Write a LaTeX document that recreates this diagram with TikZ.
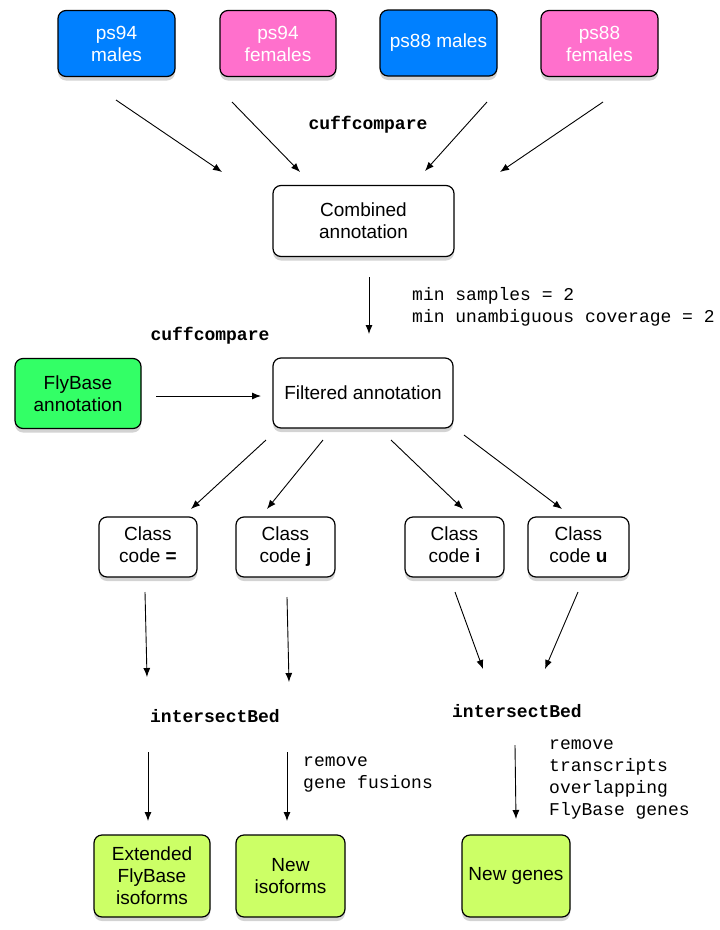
\documentclass[tikz,border=0pt]{standalone}
\usepackage{fontspec}
\setmainfont{Liberation Sans}
\newfontfamily\cour{Liberation Mono}
\usetikzlibrary{shadows,arrows.meta}
\definecolor{cblue}{RGB}{0,128,255}
\definecolor{cpink}{RGB}{255,112,204}
\definecolor{cgreen}{RGB}{51,255,102}
\definecolor{clime}{RGB}{204,255,102}
\tikzset{
  box/.style={draw=black, line width=1.2pt, rounded corners=8pt, fill=white, align=center,
    font=\fontsize{19}{22}\selectfont, inner sep=0pt,
    drop shadow={opacity=0.35, shadow xshift=0pt, shadow yshift=-4pt}},
  sample/.style={box, text=white},
  arr/.style={-{Latex[length=9pt,width=7pt]}, line width=0.9pt},
  tool/.style={font=\cour\bfseries\fontsize{18}{22}\selectfont, inner sep=0pt},
  note/.style={font=\cour\fontsize{18}{22}\selectfont, align=left, inner sep=0pt, anchor=north west},
}
\begin{document}
\begin{tikzpicture}[x=1pt,y=-1pt]
\useasboundingbox (0,0) rectangle (720,930);
% top samples
\node[sample, fill=cblue, minimum width=117pt, minimum height=66pt] (m94) at (116.5,43.5) {ps94\\males};
\node[sample, fill=cpink, minimum width=116pt, minimum height=66pt] (f94) at (278,43.5) {ps94\\females};
\node[sample, fill=cblue, minimum width=117pt, minimum height=66pt] (m88) at (438.5,43) {ps88 males};
\node[sample, fill=cpink, minimum width=117pt, minimum height=66pt] (f88) at (599.5,43.5) {ps88\\females};
\node[tool] (cc1) at (368,125) {cuffcompare};
\node[box, minimum width=181pt, minimum height=71pt] (comb) at (363.5,221) {Combined\\annotation};
\node[note] (filt1) at (412,287) {min samples = 2\\min unambiguous coverage = 2};
\node[tool] (cc2) at (210,336) {cuffcompare};
\node[box, fill=cgreen, minimum width=126pt, minimum height=70pt] (fb) at (78,393.5) {FlyBase\\annotation};
\node[box, minimum width=180pt, minimum height=70pt] (filt) at (363,393) {Filtered annotation};
% class codes
\node[box, minimum width=98pt, minimum height=60pt] (ceq) at (148,547) {Class\\code \textbf{=}\vphantom{j}};
\node[box, minimum width=99pt, minimum height=60pt] (cj) at (285.5,547) {Class\\code \textbf{j}};
\node[box, minimum width=99pt, minimum height=60pt] (ci) at (454.5,547) {Class\\code \textbf{i}\vphantom{j}};
\node[box, minimum width=101pt, minimum height=60pt] (cu) at (578.5,547) {Class\\code \textbf{u}\vphantom{j}};
% intersectBed
\node[tool] (ib1) at (215,716) {intersectBed};
\node[tool] (ib2) at (517,711) {intersectBed};
\node[note] (rm1) at (303,757) {remove\\gene fusions};
\node[note] (rm2) at (549,740) {remove\\transcripts\\overlapping\\FlyBase genes};
% results
\node[box, fill=clime, minimum width=116pt, minimum height=82pt] (ext) at (152,876) {Extended\\FlyBase\\isoforms};
\node[box, fill=clime, minimum width=109pt, minimum height=82pt] (newi) at (290.5,876) {New\\isoforms};
\node[box, fill=clime, minimum width=108pt, minimum height=82pt] (newg) at (516,876) {New genes};
% coordinates for arrows
\coordinate (a1s) at (116,100); \coordinate (a1e) at (222,172);
\coordinate (a2s) at (232,102); \coordinate (a2e) at (300,172);
\coordinate (a3s) at (487,102); \coordinate (a3e) at (425,171);
\coordinate (a4s) at (603,102); \coordinate (a4e) at (500,172);
\draw[arr] (a1s) -- (a1e);
\draw[arr] (a2s) -- (a2e);
\draw[arr] (a3s) -- (a3e);
\draw[arr] (a4s) -- (a4e);
\coordinate (b1s) at (369,277); \coordinate (b1e) at (369,334);
\draw[arr] (b1s) -- (b1e);
\coordinate (b2s) at (156,396); \coordinate (b2e) at (261,396);
\draw[arr] (b2s) -- (b2e);
\coordinate (c1s) at (266,440); \coordinate (c1e) at (191,509);
\coordinate (c2s) at (323,440); \coordinate (c2e) at (267,509);
\coordinate (c3s) at (391,440); \coordinate (c3e) at (463,509);
\coordinate (c4s) at (464,435); \coordinate (c4e) at (562,509);
\draw[arr] (c1s) -- (c1e);
\draw[arr] (c2s) -- (c2e);
\draw[arr] (c3s) -- (c3e);
\draw[arr] (c4s) -- (c4e);
\coordinate (d1s) at (145,592); \coordinate (d1e) at (147,677);
\coordinate (d2s) at (287,597); \coordinate (d2e) at (289,682);
\coordinate (d3s) at (455,592); \coordinate (d3e) at (483,669);
\coordinate (d4s) at (578,592); \coordinate (d4e) at (545,669);
\draw[arr] (d1s) -- (d1e);
\draw[arr] (d2s) -- (d2e);
\draw[arr] (d3s) -- (d3e);
\draw[arr] (d4s) -- (d4e);
\coordinate (e1s) at (148,752); \coordinate (e1e) at (148,821);
\coordinate (e2s) at (287,752); \coordinate (e2e) at (287,821);
\coordinate (e3s) at (515,745); \coordinate (e3e) at (516,819);
\draw[arr] (e1s) -- (e1e);
\draw[arr] (e2s) -- (e2e);
\draw[arr] (e3s) -- (e3e);
\end{tikzpicture}
\end{document}
